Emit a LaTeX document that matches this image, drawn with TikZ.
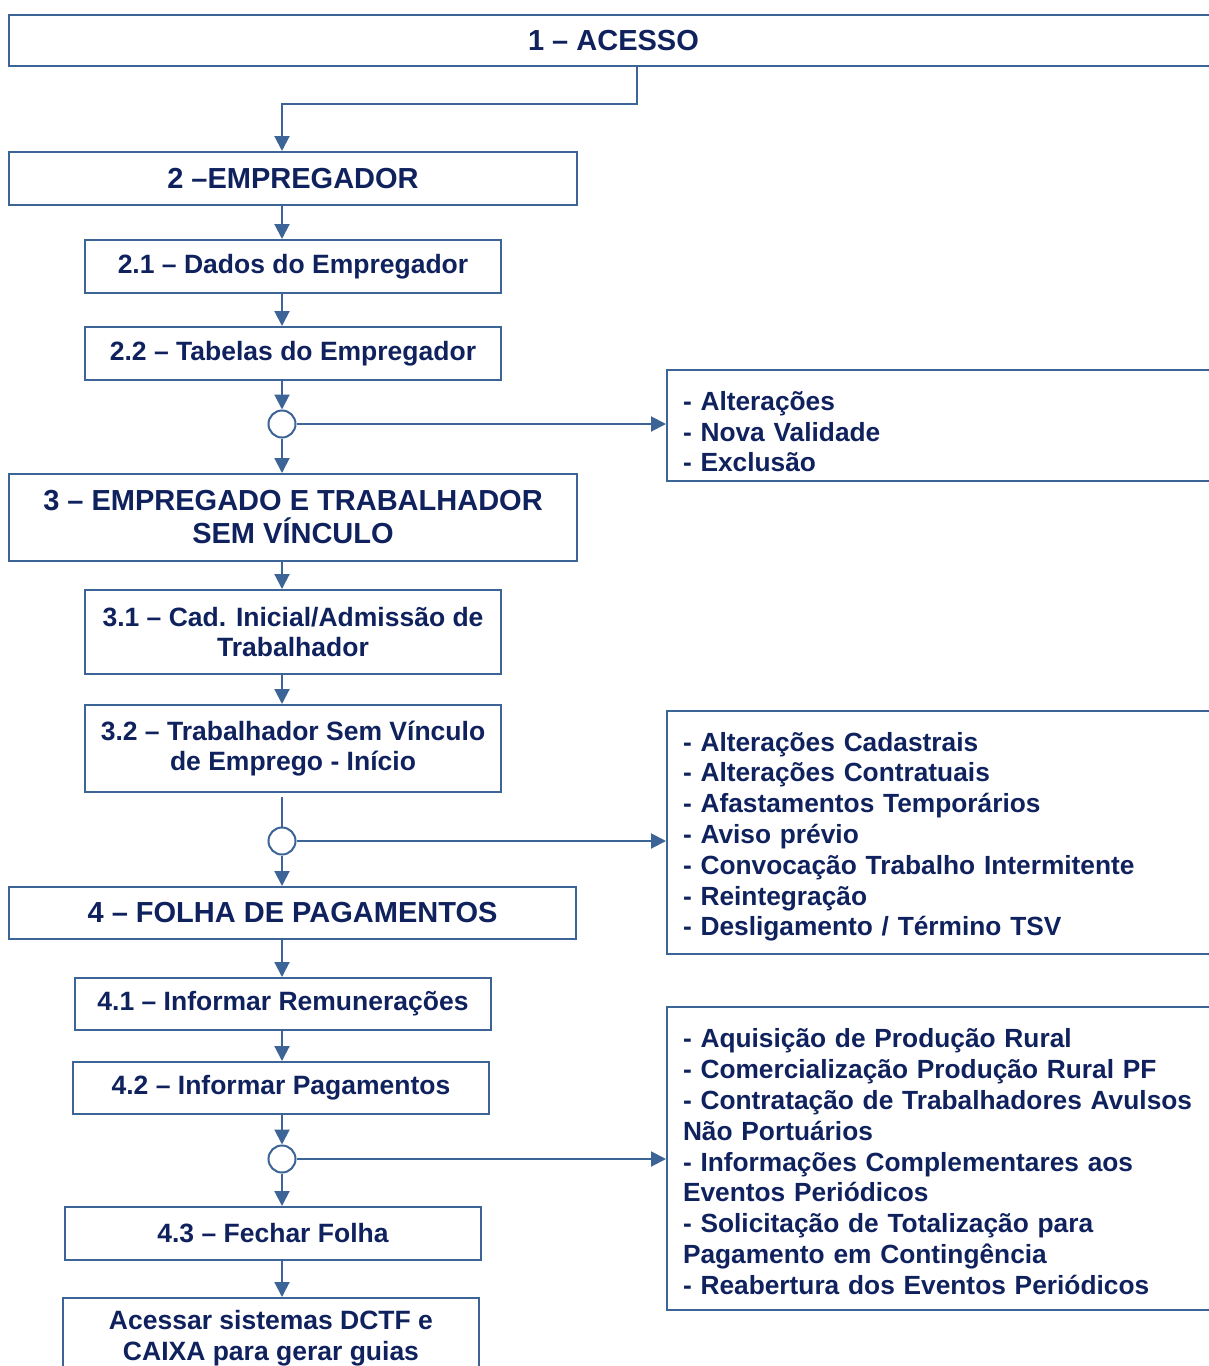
\documentclass[tikz,border=0pt]{standalone}
\usepackage{fontspec}
\setmainfont{Liberation Sans}
\usetikzlibrary{arrows.meta}
\definecolor{lineblue}{HTML}{3C6496}
\definecolor{navytext}{HTML}{10225E}
\newcommand{\hfnt}{\fontsize{29}{33}\selectfont\bfseries}
\newcommand{\sfnt}{\fontsize{26.5}{30.5}\selectfont\bfseries}
\newcommand{\lfnt}{\fontsize{26.3}{30.8}\selectfont\bfseries}
\begin{document}
\begin{tikzpicture}[x=1pt,y=-1pt,
  box/.style={draw=lineblue,line width=2pt,fill=white,text=navytext,align=center,inner sep=0pt},
  hbox/.style={box,font=\hfnt},
  sbox/.style={box,font=\sfnt},
  listbox/.style={draw=lineblue,line width=2pt,text=navytext,font=\lfnt,align=left,inner xsep=16pt,inner ysep=0pt,text width=519pt,minimum width=551pt},
  junc/.style={circle,draw=lineblue,line width=2pt,fill=white,minimum size=27pt,inner sep=0pt},
  arr/.style={draw=lineblue,line width=2pt,-{Triangle[width=15pt,length=15pt]}},
  ln/.style={draw=lineblue,line width=2pt}]
\useasboundingbox (0,0) rectangle (1209,1366);
\coordinate (col) at (282,0);
\coordinate (k1) at (637,104);

\node[hbox,minimum width=1209pt,minimum height=51pt] (b1) at (613.5,40.5) {1 – ACESSO};
\node[hbox,minimum width=568pt,minimum height=53pt] (b2) at (293,178.5) {2 –EMPREGADOR};
\node[sbox,minimum width=416pt,minimum height=53pt] (b21) at (293,266.5) {2.1 – Dados do Empregador};
\node[sbox,minimum width=416pt,minimum height=53pt] (b22) at (293,353.5) {2.2 – Tabelas do Empregador};
\node[junc] (c1) at (282,424) {};
\node[listbox,minimum height=111pt] (rA) at (942.5,425.5) {\rule{0pt}{31.5pt}- Alterações\\- Nova Validade\\- Exclusão};
\node[hbox,minimum width=568pt,minimum height=87pt] (b3) at (293,517.5) {3 – EMPREGADO E TRABALHADOR\\SEM VÍNCULO};
\node[sbox,minimum width=416pt,minimum height=84pt] (b31) at (293,632) {3.1 – Cad. Inicial/Admissão de\\Trabalhador};
\node[sbox,minimum width=416pt,minimum height=87pt] (b32) at (293,748.5) {3.2 – Trabalhador Sem Vínculo\\de Emprego - Início};
\node[junc] (c2) at (282,841) {};
\node[listbox,minimum height=243pt] (rB) at (942.5,832.5) {\rule{0pt}{27.5pt}- Alterações Cadastrais\\- Alterações Contratuais\\- Afastamentos Temporários\\- Aviso prévio\\- Convocação Trabalho Intermitente\\- Reintegração\\- Desligamento / Término TSV};
\node[hbox,minimum width=567pt,minimum height=52pt] (b4) at (292.5,913) {4 – FOLHA DE PAGAMENTOS};
\node[sbox,minimum width=416pt,minimum height=52pt] (b41) at (283,1004) {4.1 – Informar Remunerações};
\node[sbox,minimum width=416pt,minimum height=52pt] (b42) at (281,1088) {4.2 – Informar Pagamentos};
\node[junc] (c3) at (282,1159) {};
\node[listbox,minimum height=303pt] (rC) at (942.5,1158.5) {\rule{0pt}{25.5pt}- Aquisição de Produção Rural\\- Comercialização Produção Rural PF\\- Contratação de Trabalhadores Avulsos\\Não Portuários\\- Informações Complementares aos\\Eventos Periódicos\\- Solicitação de Totalização para\\Pagamento em Contingência\\- Reabertura dos Eventos Periódicos};
\node[sbox,minimum width=416pt,minimum height=53pt] (b43) at (273,1233.5) {4.3 – Fechar Folha};
\node[sbox,minimum width=416pt,minimum height=80pt] (b5) at (271,1338) {Acessar sistemas DCTF e\\CAIXA para gerar guias};

\draw[arr] (b1.south -| k1) -- (k1) -| (b2.north -| col);
\draw[arr] (b2.south -| col) -- (b21.north -| col);
\draw[arr] (b21.south -| col) -- (b22.north -| col);
\draw[arr] (b22.south -| col) -- (c1.north);
\draw[arr] (c1.east) -- (c1.east -| rA.west);
\draw[arr] (c1.south) -- (b3.north -| col);
\draw[arr] (b3.south -| col) -- (b31.north -| col);
\draw[arr] (b31.south -| col) -- (b32.north -| col);
\draw[ln] ([yshift=-4pt]b32.south -| col) -- (c2.north);
\draw[arr] (c2.east) -- (c2.east -| rB.west);
\draw[arr] (c2.south) -- (b4.north -| col);
\draw[arr] (b4.south -| col) -- (b41.north -| col);
\draw[arr] (b41.south -| col) -- (b42.north -| col);
\draw[arr] (b42.south -| col) -- (c3.north);
\draw[arr] (c3.east) -- (c3.east -| rC.west);
\draw[arr] (c3.south) -- (b43.north -| col);
\draw[arr] (b43.south -| col) -- (b5.north -| col);
\end{tikzpicture}
\end{document}
